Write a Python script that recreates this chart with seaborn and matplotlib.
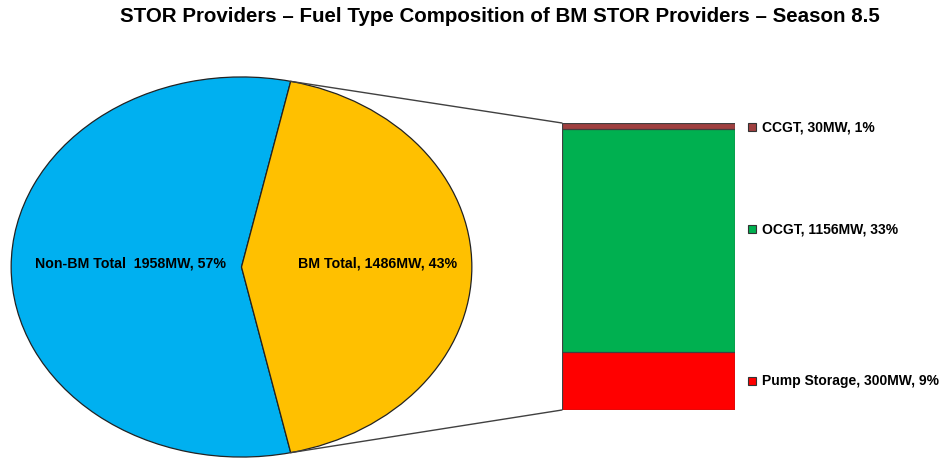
import numpy as np
import matplotlib
matplotlib.use("Agg")
import matplotlib.pyplot as plt
from matplotlib.patches import ConnectionPatch
import seaborn as sns

# pie data
pie_labels = ["Non-BM Total  1958MW, 57%", "BM Total, 1486MW, 43%"]
pie_values = [1958, 1486]
pie_colors = ["#00B0F0", "#FFC000"]

# BM breakdown (top to bottom)
fuel_types = ["CCGT", "OCGT", "Pump Storage"]
fuel_mw = [30, 1156, 300]
fuel_pct = [1, 33, 9]
fuel_colors = ["#A04040", "#00B050", "#FF0000"]

TITLE = "STOR Providers \u2013 Fuel Type Composition of BM STOR Providers \u2013 Season 8.5"


def main():
    sns.set_theme(style="white")
    plt.rcParams["font.family"] = ["Liberation Sans", "DejaVu Sans"]

    fig = plt.figure(figsize=(9.43, 4.59), dpi=100)
    W, H = 943, 459

    # pie (elliptical, as in the original)
    ax_pie = fig.add_axes([10 / W, 1 / H, 463 / W, 382 / H])
    bm_frac = pie_values[1] / sum(pie_values)
    start = bm_frac * 180
    wedges, _ = ax_pie.pie(pie_values, colors=pie_colors, startangle=start,
                           wedgeprops={"edgecolor": "#222222", "linewidth": 0.9})
    ax_pie.set_aspect("auto")
    ax_pie.set_xlim(-1.005, 1.005)
    ax_pie.set_ylim(-1.005, 1.005)
    ax_pie.axis("off")

    label_r = [0.48, 0.59]
    for w, lab, r in zip(wedges, pie_labels, label_r):
        mid = np.deg2rad((w.theta1 + w.theta2) / 2)
        ax_pie.text(r * np.cos(mid), r * np.sin(mid) + 0.02, lab, ha="center", va="center",
                    fontsize=10.2, fontweight="bold", color="black")

    # stacked bar for BM breakdown
    ax_bar = fig.add_axes([562 / W, 49 / H, 173 / W, 287 / H])
    total = sum(fuel_mw)
    cum = np.cumsum(fuel_mw[::-1])[::-1]  # top of each segment
    for ft, top, col in zip(fuel_types, cum, fuel_colors):
        sns.barplot(x=["BM"], y=[top], color=col, width=1.0, saturation=1,
                    edgecolor="#404040", linewidth=0.9, ax=ax_bar)
    ax_bar.set_xlim(-0.5, 0.5)
    ax_bar.set_ylim(0, total)
    ax_bar.axis("off")

    # legend-like labels next to the bar
    nudge = {"CCGT": -6, "OCGT": 59, "Pump Storage": 0}
    bottoms = cum - np.array(fuel_mw)
    trans = ax_bar.get_yaxis_transform()
    for ft, mw, pct, col, lo, hi in zip(fuel_types, fuel_mw, fuel_pct, fuel_colors, bottoms, cum):
        y = (lo + hi) / 2 + nudge[ft]
        ax_bar.plot([1.098], [y], marker="s", ms=5.5, mfc=col, mec="#333333", mew=0.8,
                    transform=trans, clip_on=False)
        ax_bar.text(1.158, y, f"{ft}, {mw}MW, {pct}%", transform=trans, ha="left", va="center",
                    fontsize=10, fontweight="bold", color="black")

    # connector lines from the BM wedge to the bar
    bm = wedges[1]
    for ang, yb in [(bm.theta2, total), (bm.theta1, 0)]:
        a = np.deg2rad(ang)
        con = ConnectionPatch(xyA=(np.cos(a), np.sin(a)), coordsA=ax_pie.transData,
                              xyB=(-0.5, yb), coordsB=ax_bar.transData,
                              color="#404040", linewidth=1.0)
        fig.add_artist(con)

    fig.text(499.5 / W, 1 - 17 / H, TITLE, ha="center", va="center",
             fontsize=14.8, fontweight="bold", color="black")

    fig.savefig("out.png", dpi=100)
    plt.close(fig)


if __name__ == "__main__":
    main()
